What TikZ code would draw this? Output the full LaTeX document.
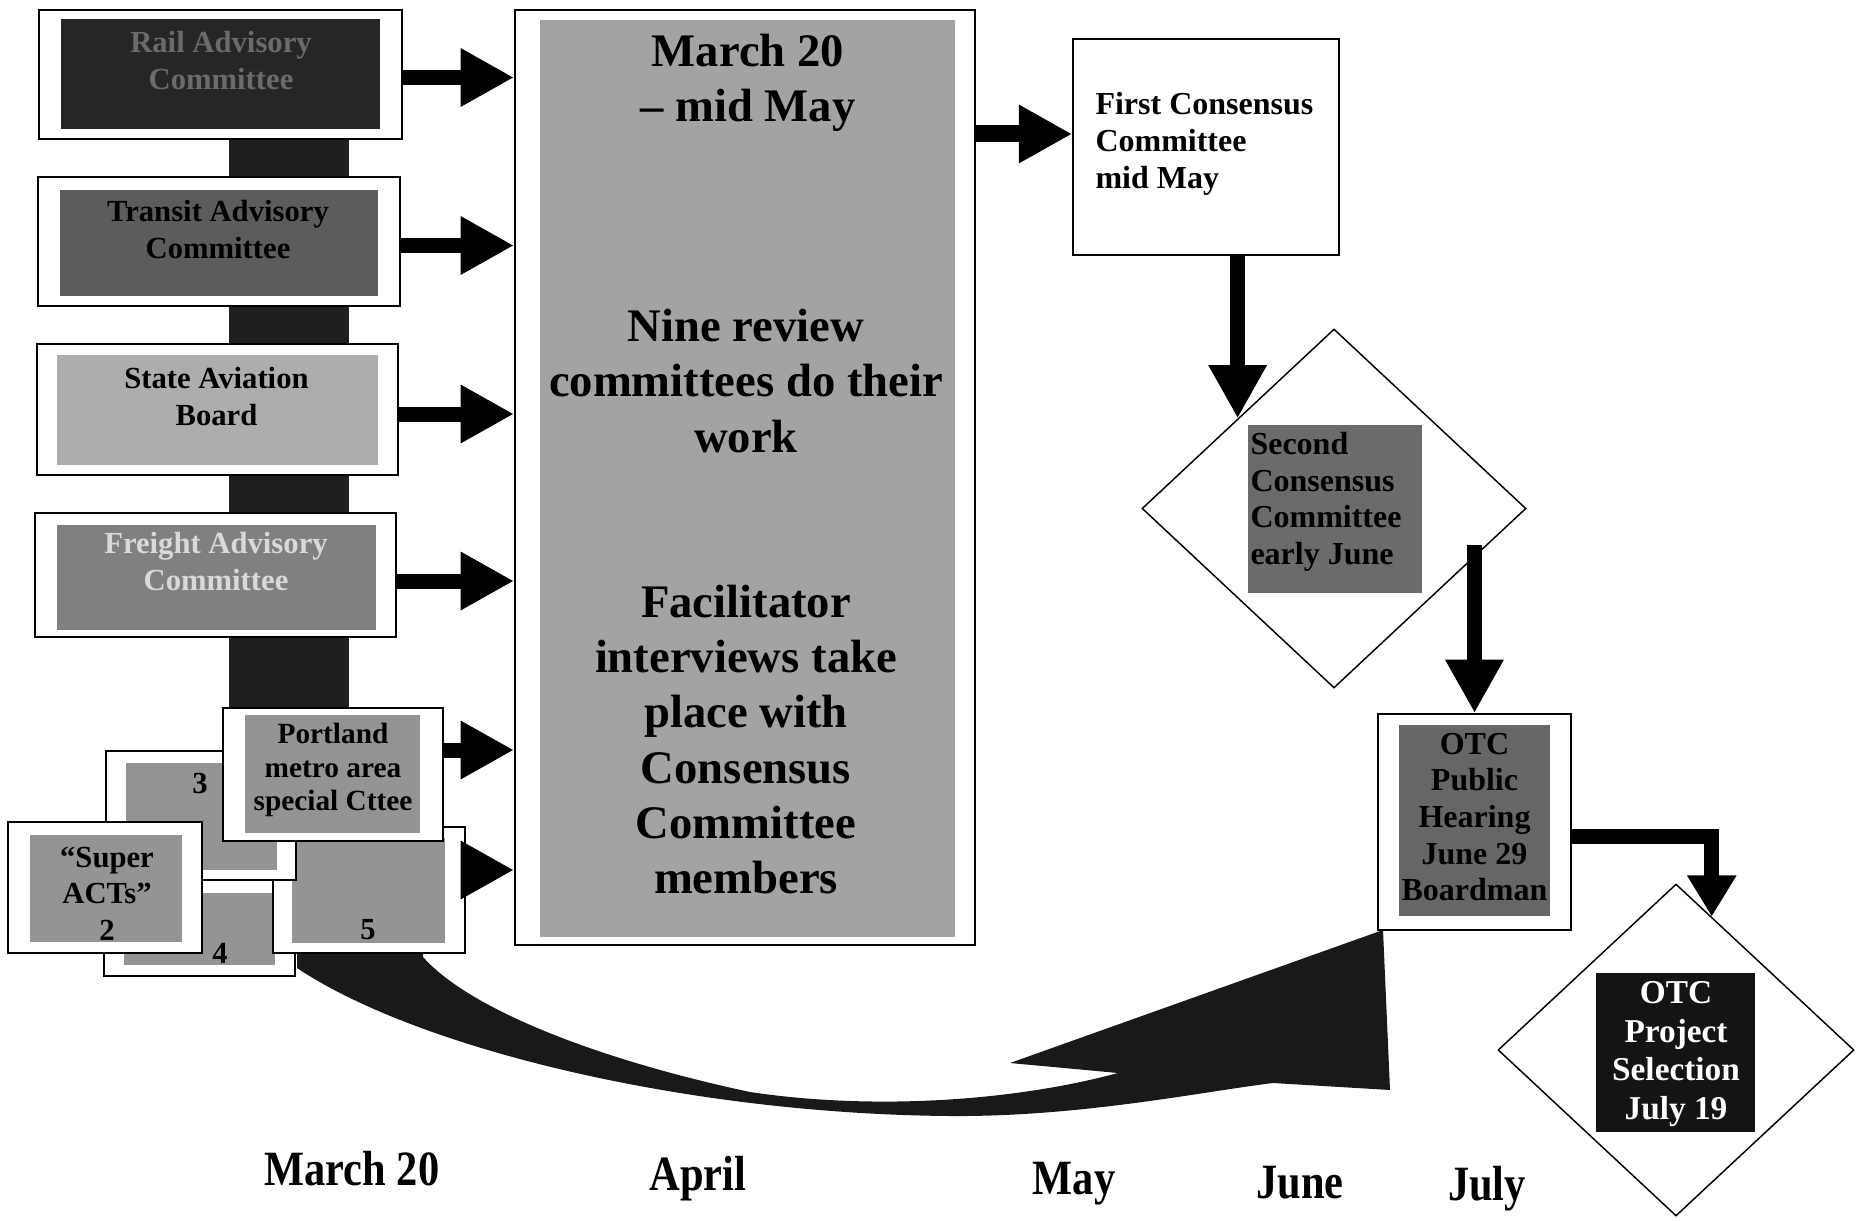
\documentclass[tikz,border=0pt]{standalone}
\usepackage{fontspec}
\setmainfont{Liberation Serif}
\newfontfamily\monthfont[FakeStretch=0.86]{Liberation Serif}
\usetikzlibrary{arrows.meta,shapes.geometric,calc}

\definecolor{spinegray}{gray}{0.12}
\definecolor{bandgray}{gray}{0.10}
\definecolor{railfill}{gray}{0.15}
\definecolor{railtext}{gray}{0.42}
\definecolor{transitfill}{gray}{0.36}
\definecolor{statefill}{gray}{0.68}
\definecolor{freightfill}{gray}{0.50}
\definecolor{freighttext}{gray}{0.85}
\definecolor{actfill}{gray}{0.58}
\definecolor{mainfill}{gray}{0.64}
\definecolor{secondfill}{gray}{0.42}
\definecolor{hearfill}{gray}{0.40}
\definecolor{selectfill}{gray}{0.08}

\tikzset{every picture/.style={line width=0.75pt}}
\tikzset{
  frame/.style={draw, fill=white, line width=1.5pt, inner sep=0pt},
  rhomb/.style={diamond, draw, fill=white, line width=1.1pt, inner sep=0pt},
  fatarrow/.style={-{Triangle[length=40pt,width=41pt]}, line width=11.25pt},
  boxtxt/.style={inner sep=0.75pt, align=center, font=\fontsize{23}{27.5}\selectfont\bfseries},
  bigtxt/.style={inner sep=0.75pt, align=center, font=\fontsize{35}{41.5}\selectfont\bfseries},
  monthtxt/.style={inner sep=0.75pt, anchor=base, font=\monthfont\fontsize{37}{40}\selectfont\bfseries}
}

\begin{document}
\begin{tikzpicture}[x=0.75pt,y=0.75pt,yscale=-1,xscale=1]
\useasboundingbox (0,0) rectangle (1865,1220);

%Shape: Rectangle (spine behind the committees)
\fill[spinegray] (229,135) rectangle (349,715);

%Shape: Curved Arrow
\fill[bandgray] (297,950) -- (297,968) .. controls (420,1050) and (690,1114) .. (950,1116)
  .. controls (1080,1117) and (1200,1092) .. (1273,1083) -- (1390,1090) -- (1383,930)
  -- (1010,1063) -- (1118,1073) .. controls (1010,1102) and (870,1110) .. (750,1092)
  .. controls (600,1060) and (470,1010) .. (423,957) -- (423,950) -- cycle;

%Shape: Rectangle
\node[frame, minimum width=363*0.75pt, minimum height=129*0.75pt] (rail) at (220.5,74.5) {};
\fill[railfill] (61,19) rectangle (380,129);
% Text Node
\node[boxtxt, text=railtext] (railtxt) at (221,60.5) {Rail Advisory\\Committee};

%Shape: Rectangle
\node[frame, minimum width=362*0.75pt, minimum height=129*0.75pt] (transit) at (219,241.5) {};
\fill[transitfill] (60,190) rectangle (378,296);
% Text Node
\node[boxtxt] (transittxt) at (218,229.5) {Transit Advisory\\Committee};

%Shape: Rectangle
\node[frame, minimum width=361*0.75pt, minimum height=131*0.75pt] (state) at (217.5,409) {};
\fill[statefill] (57,355) rectangle (378,465);
% Text Node
\node[boxtxt] (statetxt) at (216.5,396.5) {State Aviation\\Board};

%Shape: Rectangle
\node[frame, minimum width=361*0.75pt, minimum height=124*0.75pt] (freight) at (215.5,575) {};
\fill[freightfill] (57,525) rectangle (376,630);
% Text Node
\node[boxtxt, text=freighttext] (freighttxt) at (216,561.5) {Freight Advisory\\Committee};

%Shape: Rectangle
\node[frame, minimum width=191*0.75pt, minimum height=96*0.75pt] (act4) at (199.5,928) {};
\fill[actfill] (124,893) rectangle (275,965);
% Text Node
\node[boxtxt] (act4txt) at (220,953) {4};

%Shape: Rectangle
\node[frame, minimum width=192*0.75pt, minimum height=126*0.75pt] (act5) at (369,890) {};
\fill[actfill] (292,838) rectangle (445,943);
% Text Node
\node[boxtxt] (act5txt) at (368,930) {5};

%Shape: Rectangle
\node[frame, minimum width=190*0.75pt, minimum height=129*0.75pt] (act3) at (201,815.5) {};
\fill[actfill] (126,763) rectangle (277,870);
% Text Node
\node[boxtxt] (act3txt) at (200,783) {3};

%Shape: Rectangle
\node[frame, minimum width=194*0.75pt, minimum height=131*0.75pt] (super) at (105,887.5) {};
\fill[actfill] (30,835) rectangle (182,942);
% Text Node
\node[boxtxt] (supertxt) at (107,893.5) {“Super\\ACTs”\\2};

%Shape: Rectangle
\node[frame, minimum width=220*0.75pt, minimum height=133*0.75pt] (portland) at (333,774.5) {};
\fill[actfill] (245,715) rectangle (420,833);
% Text Node
\node[boxtxt, font=\fontsize{22}{25}\selectfont\bfseries] (portlandtxt) at (333,770) {Portland\\metro area\\special Cttee};

%Shape: Rectangle (review period)
\node[frame, minimum width=460*0.75pt, minimum height=935*0.75pt] (main) at (745,477.5) {};
\fill[mainfill] (540,20) rectangle (955,937);
% Text Node
\node[bigtxt] (period) at (748,83) {March 20\\– mid May};
% Text Node
\node[bigtxt] (review) at (746,381) {Nine review\\committees do their\\work};
% Text Node
\node[bigtxt] (interview) at (746,739.5) {Facilitator\\interviews take\\place with\\Consensus\\Committee\\members};

%Straight Lines
\draw[fatarrow] (rail.east |- 0,77.5) -- (main.west |- 0,77.5);
\draw[fatarrow] (transit.east |- 0,245.5) -- (main.west |- 0,245.5);
\draw[fatarrow] (state.east |- 0,414) -- (main.west |- 0,414);
\draw[fatarrow] (freight.east |- 0,581) -- (main.west |- 0,581);
\draw[fatarrow] (portland.east |- 0,750) -- (main.west |- 0,750);
\draw[fatarrow] (act5.east |- 0,870) -- (main.west |- 0,870);

%Shape: Rectangle
\node[frame, line width=1.2pt, minimum width=266*0.75pt, minimum height=216*0.75pt] (first) at (1206,147) {};
% Text Node
\node[boxtxt, align=left, anchor=west, font=\fontsize{24}{27.7}\selectfont\bfseries] (firsttxt) at (1094,143.5) {First Consensus\\Committee\\mid May};

%Straight Lines
\draw[fatarrow, line width=12.75pt] (main.east |- 0,134) -- (first.west |- 0,134);

%Shape: Diamond
\node[rhomb, minimum width=384*0.75pt, minimum height=359*0.75pt] (second) at (1334,508.5) {};
\fill[secondfill] (1248,425) rectangle (1422,593);
% Text Node
\node[boxtxt, align=left, anchor=west, font=\fontsize{24}{27.5}\selectfont\bfseries] (secondtxt) at (1249,502) {Second\\Consensus\\Committee\\early June};

%Straight Lines
\draw[fatarrow] (first.south -| second.north west) -- (second.north west);

%Shape: Rectangle
\node[frame, minimum width=193*0.75pt, minimum height=216*0.75pt] (otc) at (1474.5,822) {};
\fill[hearfill] (1399,725) rectangle (1550,916);
% Text Node
\node[boxtxt, font=\fontsize{24}{27.5}\selectfont\bfseries] (otctxt) at (1474.5,817) {OTC\\Public\\Hearing\\June 29\\Boardman};

\coordinate (secondexit) at ($(second.east)!0.2!(second.south)$);
%Straight Lines
\draw[fatarrow] (secondexit -| otc.north) -- (otc.north);

%Shape: Diamond
\node[rhomb, minimum width=356*0.75pt, minimum height=332*0.75pt] (select) at (1676,1050) {};
\fill[selectfill] (1596,973) rectangle (1755,1132);
% Text Node
\node[boxtxt, text=white, font=\fontsize{25}{29}\selectfont\bfseries] (selecttxt) at (1676,1054) {OTC\\Project\\Selection\\July 19};

\coordinate (selectentry) at ($(select.north)!0.2!(select.east)$);
%Straight Lines
\draw[fatarrow, -{Triangle[length=31pt,width=35pt]}] (otc.east |- 0,836) -| (selectentry);

% Text Node
\node[monthtxt] (march) at (352,1185) {March 20};
% Text Node
\node[monthtxt] (april) at (698,1190) {April};
% Text Node
\node[monthtxt] (may) at (1074,1194) {May};
% Text Node
\node[monthtxt] (june) at (1300,1198) {June};
% Text Node
\node[monthtxt] (july) at (1487,1200) {July};

\end{tikzpicture}
\end{document}
